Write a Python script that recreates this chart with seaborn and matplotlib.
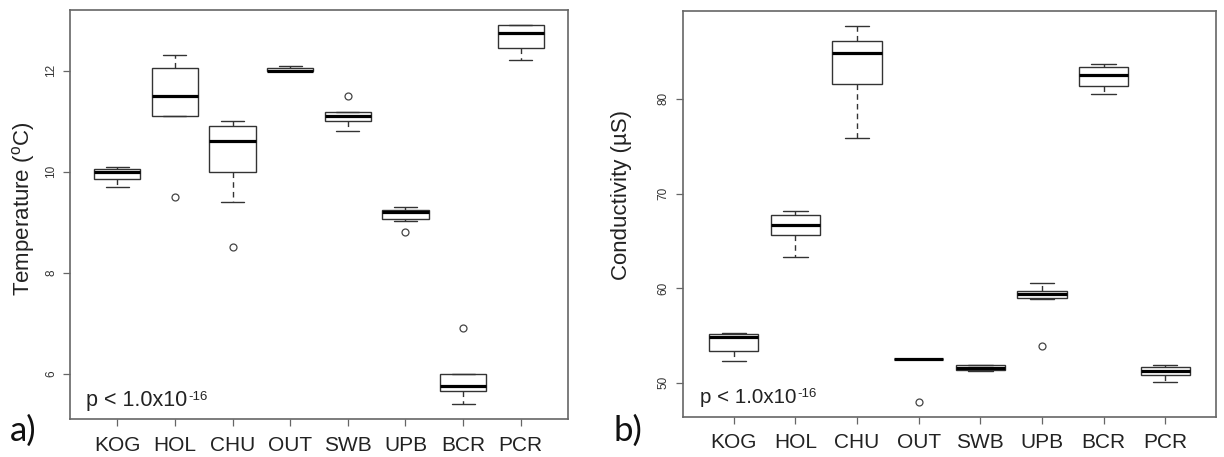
import numpy as np
import pandas as pd
import matplotlib
matplotlib.use("Agg")
import matplotlib.pyplot as plt
import seaborn as sns

# Sampling sites, in plotting order
sites = ["KOG", "HOL", "CHU", "OUT", "SWB", "UPB", "BCR", "PCR"]

# Water temperature observations per site (deg C)
temp_kog = [9.7, 9.85, 10.0, 10.05, 10.1]
temp_hol = [9.5, 11.1, 11.5, 12.05, 12.3]
temp_chu = [8.5, 9.4, 10.0, 10.3, 10.6, 10.8, 10.9, 11.0, 11.0]
temp_out = [12.0, 12.0, 12.0, 12.05, 12.1]
temp_swb = [10.8, 11.0, 11.1, 11.18, 11.5]
temp_upb = [8.8, 9.03, 9.07, 9.1, 9.2, 9.2, 9.24, 9.3, 9.3]
temp_bcr = [5.4, 5.66, 5.75, 6.0, 6.9]
temp_pcr = [12.2, 12.44, 12.75, 12.9, 12.9]

# Conductivity observations per site (uS)
cond_kog = [52.25, 53.4, 54.8, 55.2, 55.3]
cond_hol = [63.3, 65.6, 66.7, 67.7, 68.1]
cond_chu = [75.9, 81.6, 84.9, 86.1, 87.7]
cond_out = [48.0, 52.5, 52.5, 52.5, 52.5]
cond_swb = [51.2, 51.35, 51.6, 51.85, 51.9]
cond_upb = [53.9, 58.8, 59.0, 59.2, 59.4, 59.5, 59.7, 60.1, 60.5]
cond_bcr = [80.56, 81.4, 82.5, 83.4, 83.7]
cond_pcr = [50.1, 50.85, 51.25, 51.7, 51.9]

temp_ticks = [6, 8, 10, 12]
cond_ticks = [50, 60, 70, 80]
p_base = "p < 1.0x10"
p_exp = "-16"

temp_obs = [temp_kog, temp_hol, temp_chu, temp_out, temp_swb, temp_upb, temp_bcr, temp_pcr]
cond_obs = [cond_kog, cond_hol, cond_chu, cond_out, cond_swb, cond_upb, cond_bcr, cond_pcr]


def long_frame(groups, name):
    rows = [(s, v) for s, vals in zip(sites, groups) for v in vals]
    return pd.DataFrame(rows, columns=["site", name])


temp_df = long_frame(temp_obs, "value")
cond_df = long_frame(cond_obs, "value")

sns.set_style("white")
plt.rcParams["font.family"] = ["Liberation Sans", "DejaVu Sans"]
plt.rcParams["mathtext.fontset"] = "custom"
plt.rcParams["mathtext.rm"] = "Liberation Sans"
plt.rcParams["mathtext.it"] = "Liberation Sans:italic"

W, H = 1224, 457
fig = plt.figure(figsize=(W / 100, H / 100), dpi=100)
ax_t = fig.add_axes([70 / W, 1 - 419 / H, 498 / W, 409 / H])
ax_c = fig.add_axes([683.3 / W, 1 - 416.7 / H, 532.4 / W, 405.7 / H])

frame_col = "#666666"
line_col = "#333333"
text_col = "#222222"

box_kws = dict(
    order=sites,
    width=0.8,
    whis=1.5,
    fill=True,
    color="white",
    linecolor=line_col,
    linewidth=1.0,
    medianprops=dict(color="black", linewidth=2.3, solid_capstyle="butt"),
    whiskerprops=dict(color=line_col, linestyle=(0, (4, 3)), linewidth=1.0),
    capprops=dict(color=line_col, linewidth=1.0),
    flierprops=dict(marker="o", markersize=5, markerfacecolor="none",
                    markeredgecolor="#444444", markeredgewidth=0.9),
)


def style_axes(ax, df, ticks, ylabel, label_xy, ytick_pad, p_size):
    sns.boxplot(data=df, x="site", y="value", ax=ax, **box_kws)
    vmin, vmax = df["value"].min(), df["value"].max()
    span = vmax - vmin
    ax.set_ylim(vmin - 0.04 * span, vmax + 0.04 * span)
    ax.set_xlim(-0.82, len(sites) - 1 + 0.82)
    ax.set_yticks(ticks)
    ax.set_yticklabels([str(t) for t in ticks], rotation=90, va="center",
                       fontsize=8.5, color="#333333")
    ax.set_xticks(range(len(sites)))
    ax.set_xticklabels(sites, fontsize=15, color=text_col)
    ax.tick_params(axis="both", direction="out", length=5, width=0.9,
                   color=frame_col, left=True, bottom=True)
    ax.tick_params(axis="x", pad=7)
    ax.tick_params(axis="y", pad=ytick_pad)
    for sp in ax.spines.values():
        sp.set_visible(True)
        sp.set_color(frame_col)
        sp.set_linewidth(1.2)
    ax.set_xlabel("")
    ax.set_ylabel(ylabel, fontsize=16, color=text_col)
    ax.yaxis.label.set_va("center")
    ax.yaxis.set_label_coords(*label_xy)
    base = ax.text(0.032, 0.033, p_base, transform=ax.transAxes,
                   fontsize=p_size, ha="left", va="baseline", color=text_col)
    ax.annotate(p_exp, xy=(1.0, 0.0), xycoords=base, xytext=(0.5, 7.5),
                textcoords="offset points", fontsize=9.5,
                ha="left", va="baseline", color=text_col)


style_axes(ax_t, temp_df, temp_ticks, "Temperature ($^{\\mathrm{o}}$C)",
           (-0.094, 0.513), 4, 15.5)
style_axes(ax_c, cond_df, cond_ticks, "Conductivity (\u00b5S)",
           (-0.116, 0.546), 5, 14.8)

fig.text(10 / W, 1 - 441 / H, "a)", fontsize=25, family="Lato",
         ha="left", va="baseline", color="#111111")
fig.text(614 / W, 1 - 441 / H, "b)", fontsize=25, family="Lato",
         ha="left", va="baseline", color="#111111")

fig.savefig("out.png", dpi=100, facecolor="white")
